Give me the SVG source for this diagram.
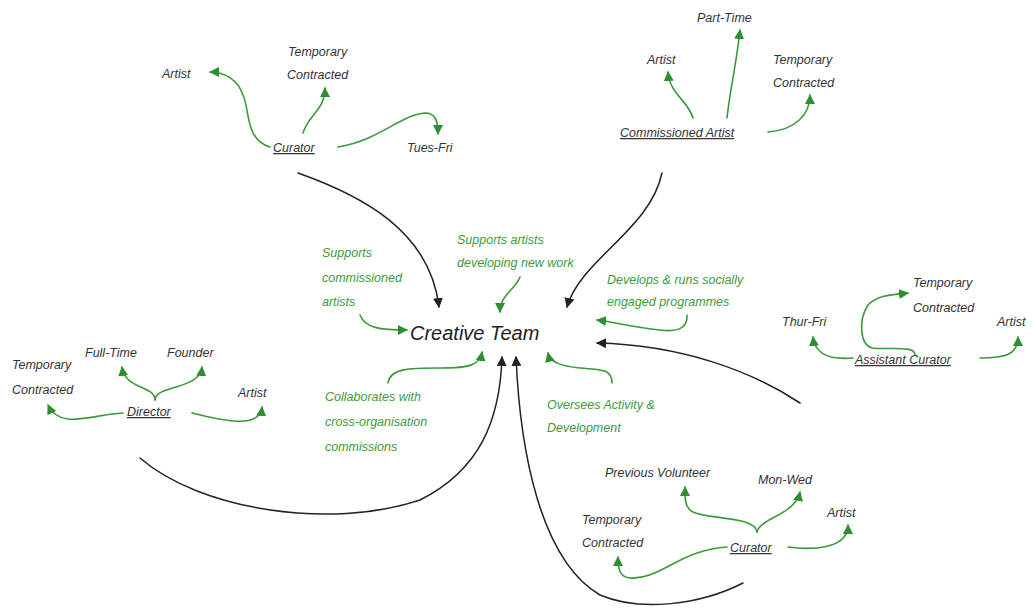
<svg xmlns="http://www.w3.org/2000/svg" width="1036" height="612" viewBox="0 0 1036 612">
<defs>
<style>
text{font-family:"Liberation Sans","DejaVu Sans",sans-serif;font-style:italic;}
.b{fill:#333;font-size:12.5px;}
.u{fill:#333;font-size:12.5px;text-decoration:underline;}
.g{fill:#3d9a3d;font-size:12.5px;}
.t{fill:#222;font-size:20px;}
.gl{fill:none;stroke:#3a9a3a;stroke-width:1.6;stroke-linecap:round;marker-end:url(#ag);}
.gn{fill:none;stroke:#3a9a3a;stroke-width:1.6;stroke-linecap:round;}
.bl{fill:none;stroke:#222;stroke-width:1.5;stroke-linecap:round;marker-end:url(#ab);}
</style>
<marker id="ag" viewBox="0 0 10 10" refX="9" refY="5" markerWidth="10" markerHeight="10" markerUnits="userSpaceOnUse" orient="auto"><path d="M0,0 L10,5 L0,10 z" fill="#2f8f2f"/></marker>
<marker id="ab" viewBox="0 0 10 10" refX="9" refY="5" markerWidth="10" markerHeight="10" markerUnits="userSpaceOnUse" orient="auto"><path d="M0,0 L10,5 L0,10 z" fill="#222"/></marker>
</defs>
<rect width="1036" height="612" fill="#fff"/>

<g id="connectors">
<!-- black to Creative Team -->
<path class="bl" d="M298,173 C360,195 430,230 439,307"/>
<path class="bl" d="M662,173 C650,230 580,260 567,307"/>
<path class="bl" d="M800,403 C750,370 680,345 597,343"/>
<path class="bl" d="M140,458 C200,510 330,530 420,500 C480,470 500,420 502,357"/>
<path class="bl" d="M743,583 C700,605 640,612 600,595 C540,560 520,450 516,357"/>
<!-- green annotation arrows -->
<path class="gl" d="M360,315 C365,328 380,330 407,330"/>
<path class="gl" d="M520,277 C515,290 500,295 500,312"/>
<path class="gl" d="M687,315 C688,330 675,332 660,330 C630,327 615,322 597,320"/>
<path class="gl" d="M388,383 C390,368 410,368 440,368 C470,368 480,365 482,352"/>
<path class="gl" d="M612,383 C612,368 600,370 580,368 C560,366 550,362 548,353"/>
<!-- top-left curator -->
<path class="gl" d="M270,147 C245,140 250,110 243,95 C238,80 225,72 210,72"/>
<path class="gl" d="M303,133 C308,115 325,110 325,88"/>
<path class="gl" d="M338,147 C380,140 400,115 425,113 C435,113 438,120 438,134"/>
<!-- commissioned artist -->
<path class="gl" d="M693,118 C688,100 670,95 668,72"/>
<path class="gl" d="M727,118 C730,90 737,60 740,30"/>
<path class="gl" d="M768,132 C795,130 810,115 810,95"/>
<!-- director -->
<path class="gl" d="M155,400 C155,385 125,390 122,367"/>
<path class="gl" d="M155,400 C155,385 200,390 202,367"/>
<path class="gl" d="M123,413 C90,415 60,430 48,405"/>
<path class="gl" d="M192,413 C220,420 260,430 262,407"/>
<!-- assistant curator -->
<path class="gl" d="M853,358 C830,360 815,355 813,337"/>
<path class="gl" d="M980,358 C1005,358 1018,355 1018,337"/>
<path class="gl" d="M915,355 C915,345 890,350 872,348 C860,345 858,320 868,305 C878,295 890,295 908,293"/>
<!-- bottom curator -->
<path class="gl" d="M757,532 C755,515 700,520 690,510 C685,505 685,500 685,487"/>
<path class="gl" d="M757,532 C760,518 795,515 800,492"/>
<path class="gl" d="M727,547 C680,550 660,580 630,578 C620,577 618,570 618,557"/>
<path class="gl" d="M788,547 C810,550 848,550 848,525"/>
</g>

<g id="creative-team"><text class="t" x="410" y="340">Creative Team</text></g>

<g id="curator-top">
<text class="u" x="273" y="152">Curator</text>
<text class="b" x="162" y="78">Artist</text>
<text class="b" x="288" y="56">Temporary</text>
<text class="b" x="287" y="79">Contracted</text>
<text class="b" x="407" y="152">Tues-Fri</text>
</g>

<g id="commissioned-artist">
<text class="u" x="620" y="137">Commissioned Artist</text>
<text class="b" x="697" y="22">Part-Time</text>
<text class="b" x="647" y="64">Artist</text>
<text class="b" x="773" y="64">Temporary</text>
<text class="b" x="773" y="87">Contracted</text>
</g>

<g id="director">
<text class="u" x="127" y="416">Director</text>
<text class="b" x="12" y="369">Temporary</text>
<text class="b" x="12" y="394">Contracted</text>
<text class="b" x="85" y="357">Full-Time</text>
<text class="b" x="167" y="357">Founder</text>
<text class="b" x="238" y="397">Artist</text>
</g>

<g id="assistant-curator">
<text class="u" x="855" y="364">Assistant Curator</text>
<text class="b" x="913" y="287">Temporary</text>
<text class="b" x="913" y="312">Contracted</text>
<text class="b" x="782" y="326">Thur-Fri</text>
<text class="b" x="997" y="326">Artist</text>
</g>

<g id="curator-bottom">
<text class="u" x="730" y="552">Curator</text>
<text class="b" x="605" y="477">Previous Volunteer</text>
<text class="b" x="758" y="484">Mon-Wed</text>
<text class="b" x="582" y="524">Temporary</text>
<text class="b" x="582" y="547">Contracted</text>
<text class="b" x="827" y="517">Artist</text>
</g>

<g id="labels">
<text class="g" x="322" y="257">Supports</text>
<text class="g" x="322" y="282">commissioned</text>
<text class="g" x="322" y="306">artists</text>
<text class="g" x="457" y="244">Supports artists</text>
<text class="g" x="457" y="267">developing new work</text>
<text class="g" x="607" y="284">Develops &amp; runs socially</text>
<text class="g" x="607" y="306">engaged programmes</text>
<text class="g" x="325" y="401">Collaborates with</text>
<text class="g" x="325" y="426">cross-organisation</text>
<text class="g" x="325" y="451">commissions</text>
<text class="g" x="547" y="409">Oversees Activity &amp;</text>
<text class="g" x="547" y="432">Development</text>
</g>
</svg>
